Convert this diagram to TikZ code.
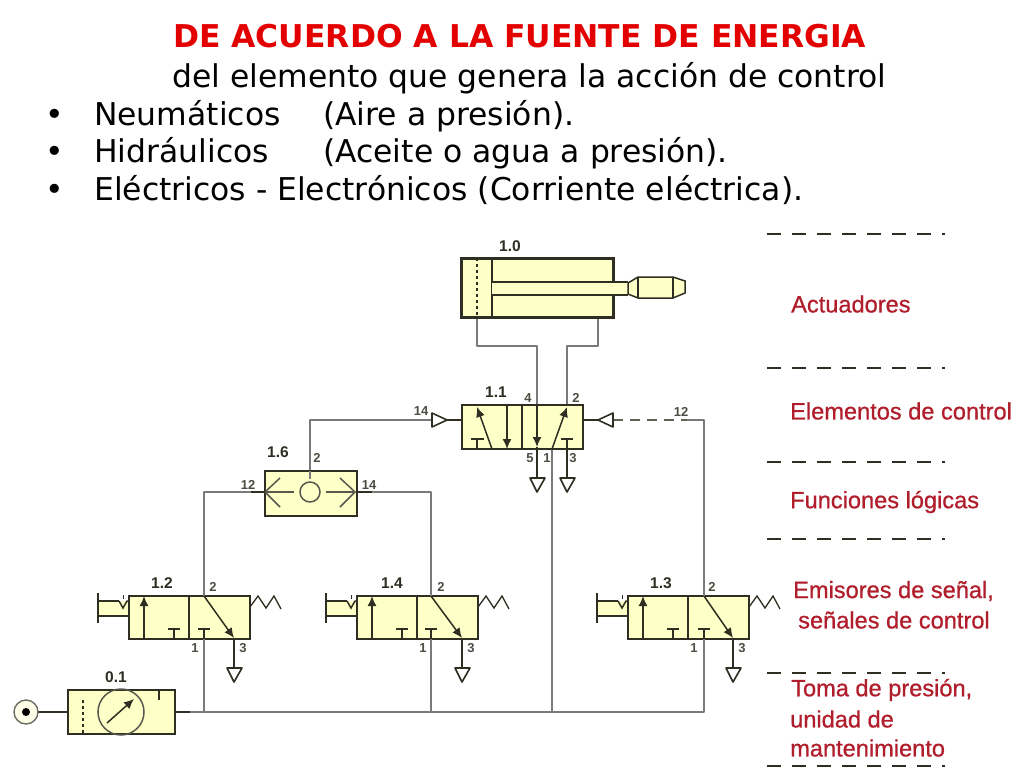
\documentclass[tikz,border=0pt]{standalone}
\usepackage{fontspec}
\usetikzlibrary{arrows.meta}
\setmainfont{DejaVu Sans}
\newfontfamily\lab{Liberation Sans}
\newfontfamily\legfont[FakeBold=0.8]{Liberation Sans}
\definecolor{fillY}{HTML}{FFFFC8}
\definecolor{ink}{HTML}{2E2E22}
\definecolor{pipeG}{HTML}{7A7A7A}
\definecolor{redT}{HTML}{E20000}
\definecolor{redL}{HTML}{B01E2C}
\tikzset{
 x=1pt,y=-1pt,
 pipe/.style={draw=pipeG,line width=2.8pt,line join=round},
 stub/.style={draw=ink,line width=1.5pt},
 box/.style={draw=ink,line width=2pt,fill=fillY},
 thin sym/.style={draw=ink,line width=1.5pt},
 tipped/.style={draw=ink,line width=1.5pt,-{Latex[length=10pt,width=9pt]}},
 exhaust/.style={draw=ink,line width=1.6pt,fill=white,line join=round},
 num/.style={font=\lab\bfseries\fontsize{13}{14}\selectfont,text=ink!85,inner sep=0pt},
 tag/.style={font=\lab\bfseries\fontsize{15.5}{16}\selectfont,text=ink,inner sep=0pt},
 ttl/.style={font=\bfseries\fontsize{31.4}{34}\selectfont,text=redT,inner sep=0pt,anchor=base west},
 txt/.style={font=\fontsize{31.4}{34}\selectfont,text=black,inner sep=0pt,anchor=base west},
 legend/.style={font=\legfont\fontsize{23.6}{26}\selectfont,text=redL,inner sep=0pt,anchor=west},
 rowdash/.style={draw=ink,line width=1.3pt,dash pattern=on 14pt off 11pt},
 pics/valve/.style args={#1/#2/#3}{code={
  \fill[fillY] (-31,5) rectangle (0,20);
  \draw[box] (0,0) rectangle (121,43);
  \draw[thin sym] (60,0) -- (60,43);
  \draw[tipped] (15,43) -- (15,0);
  \draw[thin sym] (45,43) -- (45,33) (39,33) -- (51,33);
  \draw[thin sym] (#3,43) -- (#3,33) (#3-6,33) -- (#3+6,33);
  \coordinate (-p2) at (#3,0);
  \coordinate (-p1) at (#3,43);
  \coordinate (-p3) at (105,43);
  \coordinate (-ex) at (105,72);
  \draw[tipped] (-p2) -- (105,42);
  \draw[stub] (-p3) -- (-ex);
  \draw[exhaust] (98,72) -- (113,72) -- (105,86) -- cycle;
  \draw[thin sym,line width=1.3pt] (121,11) -- (129,0) -- (137,12) -- (145,0) -- (152,13);
  \draw[thin sym] (-31,-3) -- (-31,27);
  \draw[thin sym] (-31,5) -- (-10,5) (-31,20) -- (0,20);
  \draw[thin sym] (-10,5) -- (-6,12) -- (-2,5) -- (0,5);
  \draw[thin sym,line width=.7pt] (-6,-1) -- (-6,3);
  \node[tag] (-name) at (#1,-13) {#2};
  \node[num] (-n2) at (84,-9) {2};
  \node[num] (-n1) at (66,52) {1};
  \node[num] (-n3) at (114,52) {3};
 }}
}
\begin{document}
\begin{tikzpicture}
\useasboundingbox (0,0) rectangle (1024,768);

% heading
\node[ttl] (h1) at (173,48) {DE ACUERDO A LA FUENTE DE ENERGIA};
\node[txt] (h2) at (172,87) {del elemento que genera la acción de control};
\node[txt] (b1) at (45,125) {•};
\node[txt] (t1) at (94,125) {Neumáticos};
\node[txt] (t1b) at (323,125) {(Aire a presión).};
\node[txt] (b2) at (45,162) {•};
\node[txt] (t2) at (94,162) {Hidráulicos};
\node[txt] (t2b) at (323,162) {(Aceite o agua a presión).};
\node[txt] (b3) at (45,200) {•};
\node[txt] (t3) at (94,200) {Eléctricos - Electrónicos (Corriente eléctrica).};

% anchor points
\coordinate (c1) at (477,317);
\coordinate (c2) at (598,317);
\coordinate (m1a) at (477,346);
\coordinate (m1b) at (537,346);
\coordinate (m2a) at (598,346);
\coordinate (m2b) at (567,346);
\coordinate (v4) at (537,405);
\coordinate (v5) at (537,449);
\coordinate (v2) at (567,405);
\coordinate (v3) at (567,449);
\coordinate (v1) at (552,449);
\coordinate (e5) at (537,478);
\coordinate (e3) at (567,478);
\coordinate (pl) at (462,420);
\coordinate (pr) at (583,420);
\coordinate (trL) at (432,420);
\coordinate (trLb) at (447,420);
\coordinate (trR) at (613,420);
\coordinate (trRb) at (598,420);
\coordinate (dashE) at (687,420);
\coordinate (cornerR) at (704,420);
\coordinate (cornerL) at (310,420);
\coordinate (s2) at (310,471);
\coordinate (s2in) at (310,479);
\coordinate (sL) at (265,492);
\coordinate (sR) at (357,492);
\coordinate (sLo) at (251,492);
\coordinate (sRo) at (372,492);
\coordinate (fR) at (175,712);
\coordinate (fRo) at (190,712);
\coordinate (fL) at (68,712);
\coordinate (srcE) at (38,712);

% pipes first
\pic (a) at (129,596) {valve={33/1.2/75}};
\pic (b) at (357,596) {valve={35/1.4/74}};
\pic (d) at (628,596) {valve={33/1.3/76}};

\coordinate (j12) at (204,712);
\coordinate (j14) at (431,712);
\coordinate (j11) at (552,712);
\coordinate (jEnd) at (704,712);
\coordinate (t12) at (204,492);
\coordinate (t14) at (431,492);

\draw[pipe] (fRo) -- (jEnd) -- (d-p1);
\draw[pipe] (j12) -- (a-p1);
\draw[pipe] (j14) -- (b-p1);
\draw[pipe] (j11) -- (v1);
\draw[pipe] (sLo) -- (t12) -- (a-p2);
\draw[pipe] (sRo) -- (t14) -- (b-p2);
\draw[pipe] (c1) -- (m1a) -- (m1b) -- (v4);
\draw[pipe] (c2) -- (m2a) -- (m2b) -- (v2);
\draw[pipe] (trL) -- (cornerL) -- (s2);
\draw[pipe] (dashE) -- (cornerR) -- (d-p2);
\draw[draw=ink!75,line width=1.8pt,dash pattern=on 10pt off 7pt] (trR) -- (dashE);

% cylinder
\draw[box,line width=3pt] (461,258) rectangle (613,317);
\draw[thin sym,dashed] (477,258) -- (477,317);
\draw[thin sym] (492,258) -- (492,317);
\fill[fillY] (492,282) rectangle (629,295);
\draw[thin sym] (492,282) -- (628,282) (492,295) -- (628,295);
\draw[box,line width=1.5pt] (628,283) -- (638,277) -- (673,277) -- (685,281) -- (685,293) -- (673,298) -- (638,298) -- (628,294) -- cycle;
\draw[thin sym] (638,277) -- (638,298) (673,277) -- (673,298);
\node[tag] (n10) at (510,246) {1.0};

% control valve 1.1
\draw[box] (462,405) rectangle (583,449);
\draw[thin sym] (522,405) -- (522,449);
\draw[tipped] (492,449) -- (477,407);
\draw[thin sym] (477,449) -- (477,439) (471,439) -- (484,439);
\draw[tipped] (507,405) -- (507,449);
\draw[tipped] (v4) -- (537,447);
\draw[tipped] (v1) -- (567,407);
\draw[thin sym] (v3) -- (567,439) (561,439) -- (573,439);
\draw[stub] (537,447) -- (e5);
\draw[stub] (v3) -- (e3);
\draw[exhaust] (530,478) -- (545,478) -- (537,492) -- cycle;
\draw[exhaust] (560,478) -- (575,478) -- (567,492) -- cycle;
\node[tag] (n11) at (496,392) {1.1};
\node[num] (n4) at (528,398) {4};
\node[num] (n2) at (576,398) {2};
\node[num] (n5) at (530,458) {5};
\node[num] (n1) at (547,458) {1};
\node[num] (n3) at (573,458) {3};

% pilots
\draw[stub] (trLb) -- (pl);
\draw[stub] (pr) -- (trRb);
\draw[exhaust] (trL) ++(0,-7) -- ++(15,7) -- ++(-15,7) -- cycle;
\draw[exhaust] (trR) ++(0,-7) -- ++(-15,7) -- ++(15,7) -- cycle;
\node[num] (n14) at (421,411) {14};
\node[num] (n12) at (681,412) {12};

% shuttle 1.6
\draw[box] (265,471) rectangle (357,516);
\draw[thin sym,draw=ink!80] (310,492) circle[radius=10];
\draw[thin sym,draw=ink!80] (sL) -- (294,492) (326,492) -- (355,492);
\draw[thin sym,draw=ink!80] (280,478) -- (sL) -- (280,507);
\draw[thin sym,draw=ink!80] (340,478) -- (355,492) -- (340,507);
\draw[pipe,line width=2pt] (s2) -- (s2in);
\draw[stub] (sL) -- (sLo);
\draw[stub] (sR) -- (sRo);
\node[tag] (n16) at (278,452) {1.6};
\node[num] (n62) at (317,458) {2};
\node[num] (n612) at (248,485) {12};
\node[num] (n614) at (369,485) {14};

% service unit 0.1
\draw[box] (68,690) rectangle (175,734);
\draw[thin sym,dashed] (83,700) -- (83,734);
\draw[thin sym,draw=ink!80] (121,712) circle[radius=23];
\draw[tipped] (107,723) -- (134,699);
\draw[thin sym] (159,690) -- (159,700);
\draw[stub] (fR) -- (fRo);
\draw[stub] (srcE) -- (fL);
\draw[draw=ink!70,line width=1.4pt,fill=fillY!40] (26,712) circle[radius=12];
\fill[black] (26,712) circle[radius=4];
\node[tag] (n01) at (116,677) {0.1};

% legend
\foreach \yy/\nm in {234/r1,368/r2,462/r3,539/r4,673/r5,766/r6}{
  \coordinate (\nm a) at (767,\yy);
  \coordinate (\nm b) at (945,\yy);
  \draw[rowdash] (\nm a) -- (\nm b);
}
\node[legend] (l1) at (791,304) {Actuadores};
\node[legend] (l2) at (790,411) {Elementos de control};
\node[legend] (l3) at (790,502) {Funciones lógicas};
\node[legend] (l4) at (793,591) {Emisores de señal,};
\node[legend] (l5) at (798,620) {señales de control};
\node[legend] (l6) at (791,690) {Toma de presión,};
\node[legend] (l7) at (790,719) {unidad de};
\node[legend] (l8) at (790,748) {mantenimiento};
\end{tikzpicture}
\end{document}
